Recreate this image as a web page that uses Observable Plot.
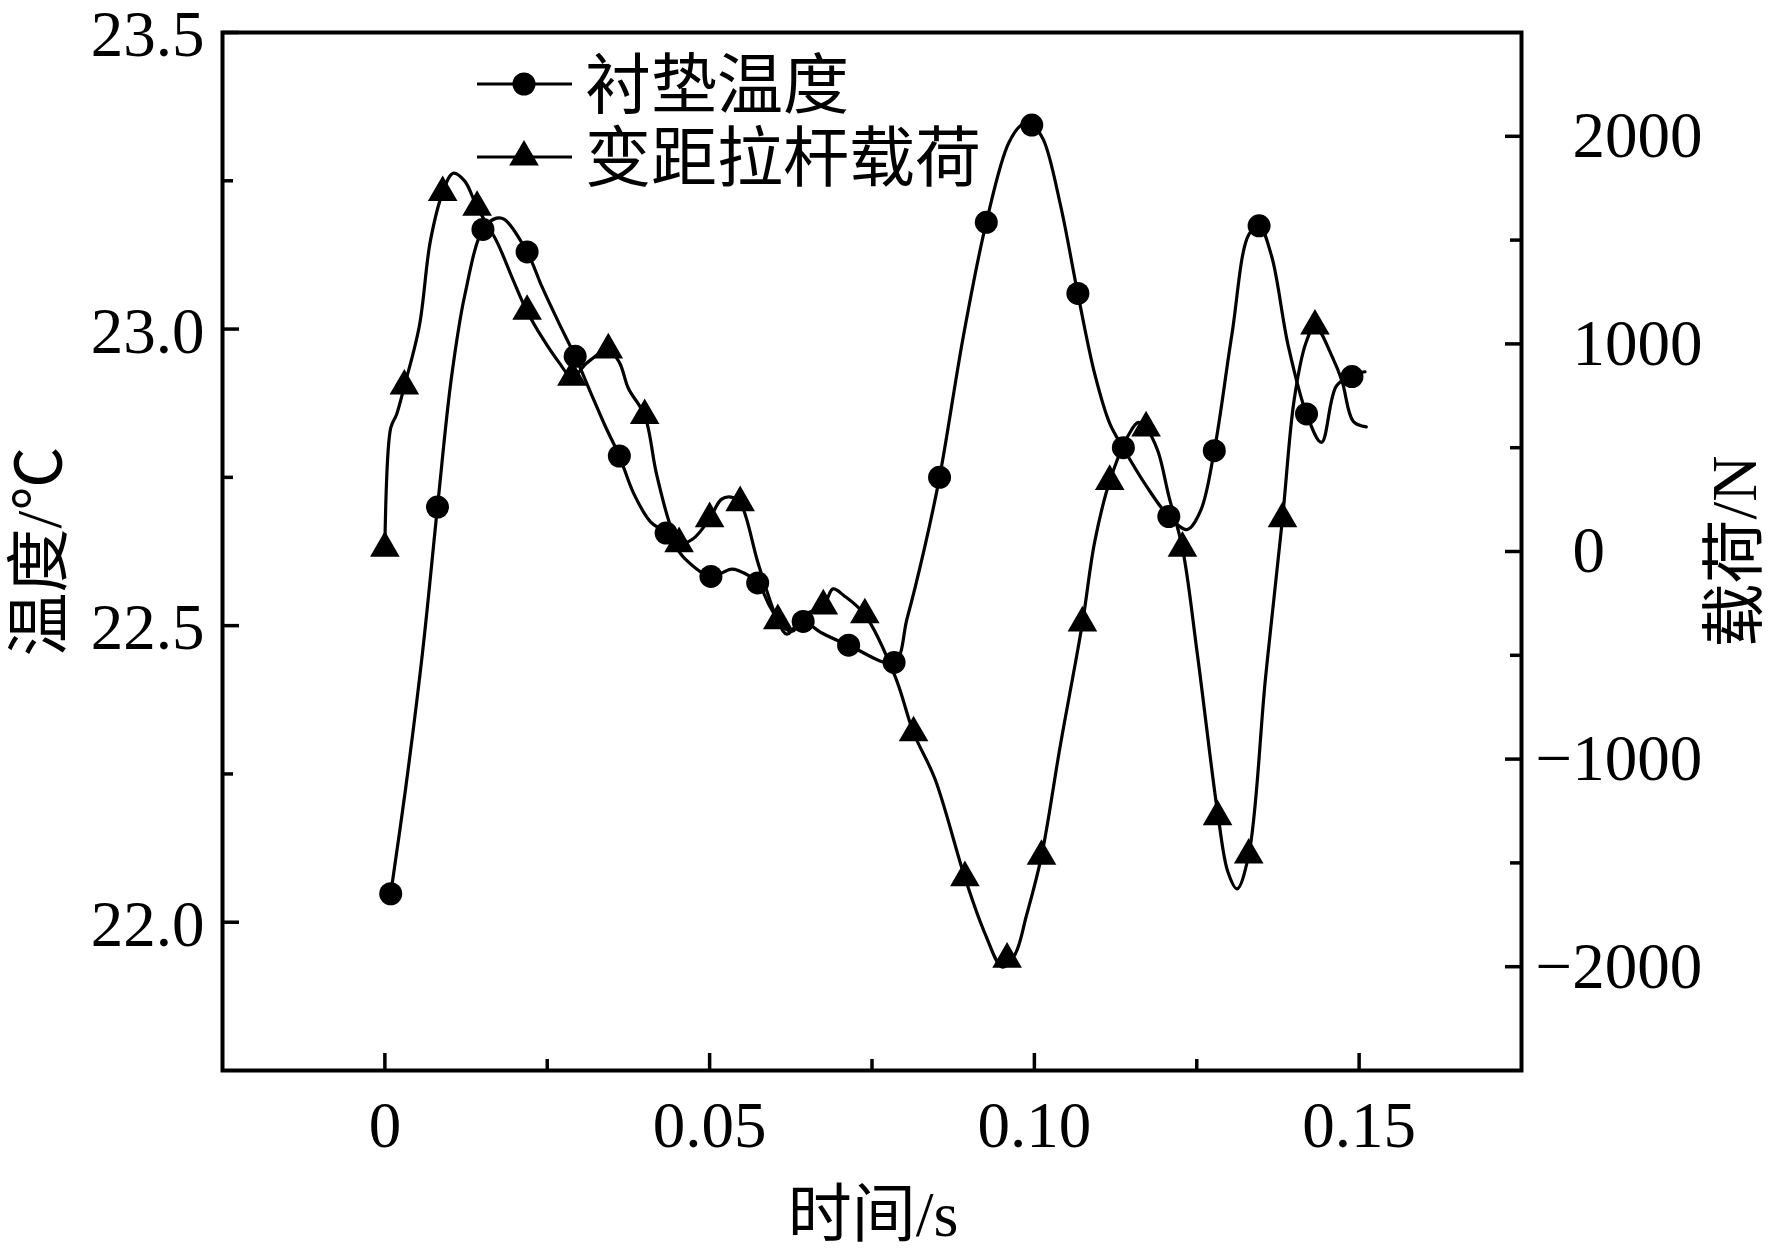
<!DOCTYPE html>
<html>
<head>
<meta charset="utf-8">
<script src="https://cdn.jsdelivr.net/npm/d3@7"></script>
<script src="https://cdn.jsdelivr.net/npm/@observablehq/plot@0.6"></script>
<style>
  html, body { margin: 0; padding: 0; background: white; }
  #wrap { position: relative; width: 1772px; height: 1252px; }
  #wrap svg { position: absolute; left: 0; top: 0; max-width: none !important; }
</style>
</head>
<body>
<div id="wrap"></div>
<script>
// ---- data ----
// 衬垫温度 (temperature, °C) – marker points
const tempMarkX = [0.0009,0.0081,0.0151,0.0219,0.0293,0.0361,0.0433,0.0502,0.0574,0.0644,0.0714,0.0784,0.0854,0.0926,0.0996,0.1067,0.1137,0.1207,0.1277,0.1346,0.1419,0.1489];
const tempMarkY = [22.048,22.70,23.168,23.13,22.954,22.786,22.656,22.583,22.572,22.507,22.467,22.438,22.75,23.18,23.344,23.06,22.80,22.684,22.795,23.174,22.857,22.92];
// temperature curve (denser trace)
const tempLineX = [0.0009,0.0032,0.0058,0.0081,0.0102,0.0123,0.0151,0.0172,0.0184,0.0219,0.0242,0.0268,0.0293,0.0316,0.0339,0.0361,0.0383,0.0409,0.0433,0.0461,0.0502,0.0532,0.0544,0.0574,0.0593,0.0614,0.0628,0.0644,0.0672,0.0714,0.0784,0.0804,0.0830,0.0854,0.0891,0.0926,0.0961,0.0983,0.0997,0.1014,0.1040,0.1067,0.1093,0.1116,0.1137,0.1172,0.1207,0.1235,0.1256,0.1277,0.1304,0.1330,0.1346,0.1365,0.1391,0.1419,0.1442,0.1465,0.1489,0.1509];
const tempLineY = [22.048,22.226,22.455,22.700,22.914,23.057,23.168,23.187,23.185,23.130,23.071,23.010,22.954,22.895,22.837,22.786,22.723,22.675,22.656,22.614,22.583,22.595,22.593,22.572,22.532,22.497,22.491,22.507,22.488,22.467,22.438,22.512,22.627,22.750,22.990,23.180,23.315,23.346,23.344,23.319,23.210,23.059,22.924,22.841,22.799,22.736,22.684,22.662,22.694,22.795,22.990,23.159,23.174,23.124,22.971,22.857,22.809,22.904,22.922,22.928];

// 变距拉杆载荷 (load, N) – marker points
const loadMarkX = [0,0.003,0.0089,0.0142,0.0219,0.0288,0.0344,0.040,0.0453,0.050,0.0547,0.0605,0.0675,0.0739,0.0814,0.0893,0.0958,0.1011,0.1074,0.1116,0.1172,0.1228,0.1282,0.133,0.1382,0.1432];
const loadMarkY = [16,797,1729,1658,1157,840,971,655,38,158,235,-333,-262,-305,-873,-1571,-1964,-1468,-344,338,595,16,-1277,-1462,158,1086];
// load curve (denser trace)
const loadLineX = [0,0.0009,0.0018,0.0030,0.0053,0.0070,0.0089,0.0105,0.0123,0.0142,0.0172,0.0198,0.0219,0.0242,0.0268,0.0288,0.0312,0.0344,0.0361,0.0375,0.0400,0.0418,0.0439,0.0453,0.0474,0.0500,0.0518,0.0533,0.0547,0.0575,0.0605,0.0619,0.0646,0.0675,0.0690,0.0707,0.0739,0.0786,0.0814,0.0847,0.0893,0.0923,0.0951,0.0970,0.0988,0.1011,0.1040,0.1074,0.1093,0.1116,0.1146,0.1160,0.1172,0.1190,0.1207,0.1228,0.1251,0.1283,0.1298,0.1312,0.1330,0.1356,0.1382,0.1400,0.1418,0.1432,0.1460,0.1474,0.1491,0.1511];
const loadLineY = [16,595,660,796,1085,1495,1729,1822,1784,1658,1495,1304,1156,1031,911,840,911,971,911,785,655,376,131,38,60,158,251,262,235,-60,-333,-398,-305,-262,-180,-213,-305,-605,-873,-1096,-1571,-1833,-2002,-1942,-1751,-1467,-933,-344,49,338,567,622,595,485,267,16,-496,-1277,-1544,-1625,-1462,-605,158,731,1004,1086,928,818,627,600];

// axis ticks
const tempTicks = [22.0, 22.5, 23.0, 23.5];
const tempMinor = [22.25, 22.75, 23.25];
const loadTicks = [-2000, -1000, 0, 1000, 2000];
const loadMinor = [-1500, -500, 500, 1500];
const timeTicks = [0, 0.05, 0.10, 0.15];
const timeMinor = [0.025, 0.075, 0.125];

// legend entries
const legendNames = ["衬垫温度", "变距拉杆载荷"];

// ---- layout ----
const W = 1772, H = 1252;
const mL = 222, mR = 251, mT = 32, mB = 182;
const innerW = W - mL - mR, innerH = H - mT - mB;
const FONT = "'Liberation Serif', 'Times New Roman', 'Noto Sans CJK SC', serif";
const tickW = 3.5;

const temp = tempLineX.map((x, i) => ({x, y: tempLineY[i]}));
const tempPts = tempMarkX.map((x, i) => ({x, y: tempMarkY[i]}));
const load = loadLineX.map((x, i) => ({x, y: loadLineY[i]}));
const loadPts = loadMarkX.map((x, i) => ({x, y: loadMarkY[i]}));

const common = {
  width: W, height: H,
  marginLeft: mL, marginRight: mR, marginTop: mT, marginBottom: mB,
  x: {domain: [-0.025, 0.175], axis: null},
};

const chart1 = Plot.plot({
  ...common,
  style: {fontFamily: FONT, fontSize: "65px", background: "white", color: "black", overflow: "visible"},
  y: {domain: [21.75, 23.5], axis: null},
  marks: [
    Plot.line(temp, {x: "x", y: "y", stroke: "black", strokeWidth: 3.2, curve: "catmull-rom"}),
    Plot.dot(tempPts, {x: "x", y: "y", r: 11.5, fill: "black", symbol: "circle"}),
    Plot.tickY(tempTicks, {y: d => d, stroke: "black", strokeWidth: tickW, insetRight: innerW - 17}),
    Plot.tickY(tempMinor, {y: d => d, stroke: "black", strokeWidth: tickW, insetRight: innerW - 11}),
    Plot.tickX(timeTicks, {x: d => d, stroke: "black", strokeWidth: tickW, insetTop: innerH - 17}),
    Plot.tickX(timeMinor, {x: d => d, stroke: "black", strokeWidth: tickW, insetTop: innerH - 11}),
    Plot.axisY(tempTicks, {anchor: "left", tickSize: 0, tickPadding: 18, dy: 3, tickFormat: d => d.toFixed(1), label: null, fontSize: 65, fill: "black"}),
    Plot.axisX(timeTicks, {anchor: "bottom", tickSize: 0, tickPadding: 30, tickFormat: d => d === 0 ? "0" : d.toFixed(2), label: null, fontSize: 65, fill: "black"}),
    Plot.text(["温度/℃"], {text: d => d, frameAnchor: "left", textAnchor: "middle", dx: -182, rotate: -90, fontSize: 64, fill: "black"}),
    Plot.text(["时间/s"], {text: d => d, frameAnchor: "bottom", textAnchor: "middle", dx: 1, dy: 165, fontSize: 64, fill: "black"}),
    Plot.frame({stroke: "black", strokeWidth: 4})
  ]
});

const chart2 = Plot.plot({
  ...common,
  style: {fontFamily: FONT, fontSize: "65px", background: "transparent", color: "black", overflow: "visible"},
  y: {domain: [-2500, 2500], axis: null},
  marks: [
    Plot.line(load, {x: "x", y: "y", stroke: "black", strokeWidth: 3.2, curve: "catmull-rom"}),
    Plot.dot(loadPts, {x: "x", y: "y", r: 11, fill: "black", symbol: "triangle"}),
    Plot.tickY(loadTicks, {y: d => d, stroke: "black", strokeWidth: tickW, insetLeft: innerW - 16}),
    Plot.tickY(loadMinor, {y: d => d, stroke: "black", strokeWidth: tickW, insetLeft: innerW - 11}),
    Plot.axisY(loadTicks.filter(d => d >= 0), {anchor: "right", tickSize: 0, tickPadding: 51, tickFormat: d => String(d), label: null, fontSize: 65, fill: "black"}),
    Plot.axisY(loadTicks.filter(d => d < 0), {anchor: "right", tickSize: 0, tickPadding: 51, dx: -37, tickFormat: d => "\u2212" + Math.abs(d), label: null, fontSize: 65, fill: "black"}),
    Plot.text(["载荷/N"], {text: d => d, frameAnchor: "right", textAnchor: "middle", dx: 214, dy: 0, rotate: -90, fontSize: 64, fill: "black"})
  ]
});

const wrap = document.getElementById("wrap");
wrap.appendChild(chart1);
wrap.appendChild(chart2);

// legend (inside the plot area, top-left)
const svg = d3.select(chart2);
const leg = svg.append("g").attr("font-family", FONT).attr("font-size", 66).attr("fill", "black").attr("text-anchor", "start");
const rows = [
  {name: legendNames[0], sym: d3.symbolCircle, size: Math.PI * 11.5 * 11.5, y: 84},
  {name: legendNames[1], sym: d3.symbolTriangle, size: Math.PI * 11 * 11, y: 157}
];
for (const r of rows) {
  leg.append("line").attr("x1", 477).attr("x2", 572).attr("y1", r.y).attr("y2", r.y)
    .attr("stroke", "black").attr("stroke-width", 3.2);
  leg.append("path").attr("d", d3.symbol(r.sym, r.size)()).attr("transform", `translate(524,${r.y})`).attr("fill", "black");
  leg.append("text").attr("x", 585).attr("y", r.y).attr("dy", "0.36em").attr("text-anchor", "start").text(r.name);
}
</script>
</body>
</html>
